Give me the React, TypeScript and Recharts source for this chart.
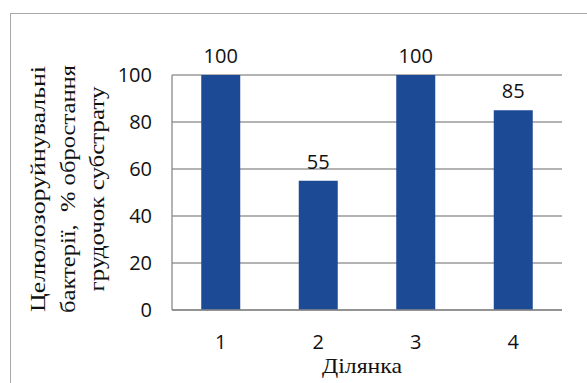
import React from 'react';
import { BarChart, Bar, XAxis, YAxis, CartesianGrid, LabelList } from 'recharts';

const plots = ['1', '2', '3', '4'];
const fouling = [100, 55, 100, 85];
const yTicks = [0, 20, 40, 60, 80, 100];
const yTitle = ['Целюлозоруйнувальні', 'бактерії,  % обростання', 'грудочок субстрату'];
const xTitle = 'Ділянка';

const data = plots.map((p, i) => ({ plot: p, value: fouling[i] }));

const BAR = '#1C4A94';
const GRID = '#9a9a9a';
const numFont = '"Open Sans", "Liberation Sans", sans-serif';
const serif = '"Liberation Serif", "Times New Roman", serif';

// three rotated lines of the value-axis title
const YTitle = () => {
  const xs = [37, 67, 96];
  const lens = [246, 248, 205];
  return (
    <g>
      {yTitle.map((t, i) => (
        <text
          key={t}
          x={xs[i]}
          y={189}
          transform={`rotate(-90 ${xs[i]} 189)`}
          textAnchor="middle"
          dominantBaseline="central"
          fontFamily={serif}
          fontSize={22}
          fill="#111"
          textLength={lens[i]}
          lengthAdjust="spacingAndGlyphs"
          style={{ whiteSpace: 'pre' }}
        >
          {t}
        </text>
      ))}
    </g>
  );
};

export default function App() {
  return (
    <div style={{ position: 'absolute', left: 0, top: 0, width: 587, height: 383, background: '#fff', overflow: 'hidden' }}>
      <div
        style={{
          position: 'absolute',
          left: 10,
          top: 13,
          width: 600,
          height: 400,
          borderTop: '1.5px solid #a8a8a8',
          borderLeft: '1.5px solid #a8a8a8',
        }}
      />
      <BarChart
        width={587}
        height={383}
        data={data}
        margin={{ top: 75, right: 25, bottom: 43, left: 0 }}
        barCategoryGap="30%"
        style={{ position: 'absolute', left: 0, top: 0 }}
      >
        <CartesianGrid vertical={false} stroke={GRID} strokeWidth={1.3} />
        <XAxis
          dataKey="plot"
          height={30}
          tickLine={false}
          tickSize={0}
          tickMargin={25}
          axisLine={{ stroke: '#8a8a8a', strokeWidth: 1.5 }}
          tick={{ fill: '#111', fontSize: 20, fontFamily: numFont }}
        />
        <YAxis
          width={172}
          domain={[0, 100]}
          ticks={yTicks}
          interval={0}
          tickLine={false}
          tickSize={0}
          tickMargin={20}
          axisLine={{ stroke: '#8a8a8a', strokeWidth: 1.3 }}
          tick={{ fill: '#111', fontSize: 20, fontFamily: numFont }}
          label={{ content: () => <YTitle /> }}
        />
        <Bar dataKey="value" fill={BAR} isAnimationActive={false}>
          <LabelList
            dataKey="value"
            position="top"
            offset={12}
            fill="#111"
            fontSize={20}
            fontFamily={numFont}
          />
        </Bar>
      </BarChart>
      <svg width={587} height={383} style={{ position: 'absolute', left: 0, top: 0, pointerEvents: 'none' }}>
        <text
          x={362}
          y={373}
          textAnchor="middle"
          fontFamily={serif}
          fontSize={22}
          fill="#111"
          textLength={80}
          lengthAdjust="spacingAndGlyphs"
        >
          {xTitle}
        </text>
      </svg>
    </div>
  );
}
